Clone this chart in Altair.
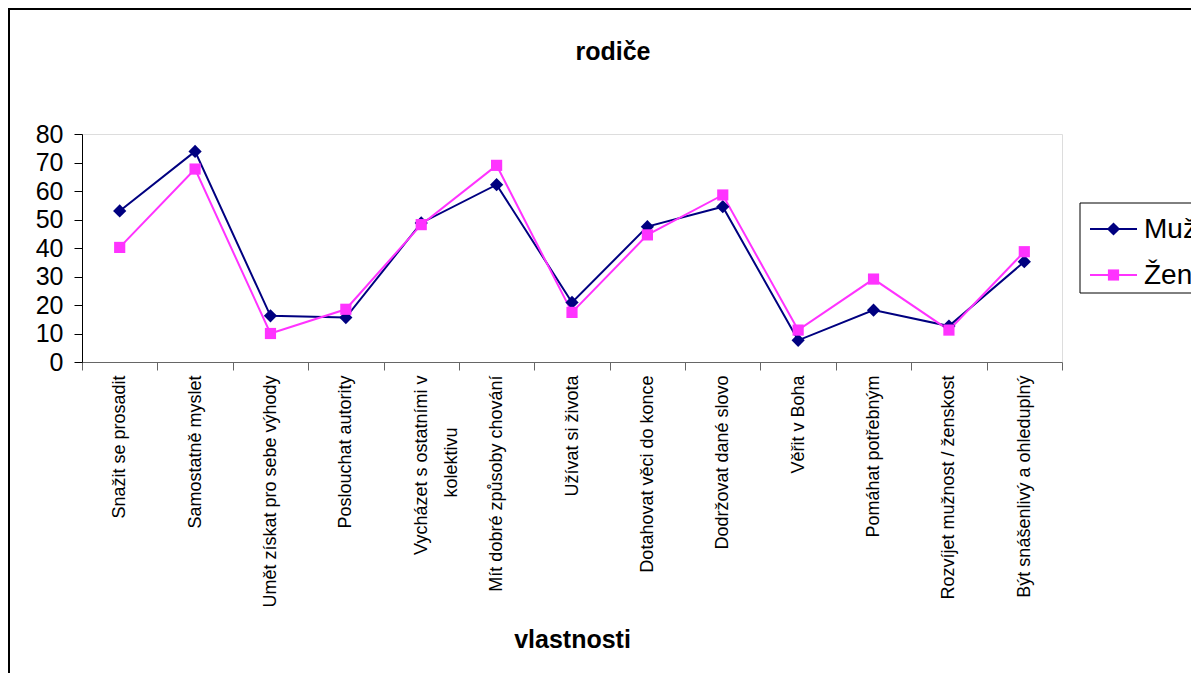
import altair as alt
import pandas as pd

categories = [
    "Snažit se prosadit",
    "Samostatně myslet",
    "Umět získat pro sebe výhody",
    "Poslouchat autority",
    "Vycházet s ostatními v|kolektivu" + "\u2800" * 4,
    "Mít dobré způsoby chování",
    "Užívat si života",
    "Dotahovat věci do konce",
    "Dodržovat dané slovo",
    "Věřit v Boha",
    "Pomáhat potřebným",
    "Rozvíjet mužnost / ženskost",
    "Být snášenlivý a ohleduplný",
]
muzi = [53.0, 73.9, 16.2, 15.6, 48.8, 62.2, 20.9, 47.5, 54.5, 7.6, 18.2, 12.6, 35.2]
zeny = [40.2, 67.7, 10.0, 18.5, 48.2, 69.0, 17.4, 44.6, 58.6, 11.2, 29.1, 11.2, 38.7]
series_names = ["Muži", "Ženy"]
series_colors = ["#000080", "#FF33FF"]
series_markers = ["diamond", "square"]
marker_sizes = [175, 125]
y_ticks = [0, 10, 20, 30, 40, 50, 60, 70, 80]

FONT = "Liberation Sans"

rows = []
for name, vals in zip(series_names, [muzi, zeny]):
    for c, v in zip(categories, vals):
        rows.append({"cat": c, "value": v, "series": name})
df = pd.DataFrame(rows)
leg_df = pd.DataFrame({"series": series_names})

cscale = alt.Scale(domain=series_names, range=series_colors)
shape_scale = alt.Scale(domain=series_names, range=series_markers)
size_scale = alt.Scale(domain=series_names, range=marker_sizes)

x_enc = alt.X(
    "cat:N",
    sort=categories,
    bandPosition=0.5,
    scale=alt.Scale(type="band", paddingInner=0, paddingOuter=0),
    axis=alt.Axis(
        title="vlastnosti",
        titleFont=FONT,
        titleFontSize=25,
        titleFontWeight="bold",
        titleColor="black",
        titlePadding=65,
        labelAngle=-90,
        labelFont=FONT,
        labelFontSize=18,
        labelColor="black",
        labelPadding=5,
        labelLineHeight=30,
        labelExpr="split(datum.label, '|')",
        labelLimit=400,
        tickBand="extent",
        tickSize=8,
        tickColor="#666666",
        domainColor="#666666",
        grid=False,
    ),
)
y_enc = alt.Y(
    "value:Q",
    scale=alt.Scale(domain=[0, 80], nice=False, zero=True),
    axis=alt.Axis(
        title=None,
        values=y_ticks,
        labelFont=FONT,
        labelFontSize=25,
        labelColor="black",
        labelPadding=11,
        tickSize=8,
        tickColor="black",
        domainColor="black",
        grid=False,
    ),
)

base = alt.Chart(df)

lines = base.mark_line(strokeWidth=2).encode(
    x=x_enc, y=y_enc, color=alt.Color("series:N", scale=cscale, legend=None)
)

points = base.mark_point(filled=True, opacity=1).encode(
    x=x_enc,
    y=y_enc,
    color=alt.Color("series:N", scale=cscale, legend=None),
    shape=alt.Shape("series:N", scale=shape_scale, legend=None),
    size=alt.Size("series:N", scale=size_scale, legend=None),
)

main = alt.layer(lines, points)

# legend (box at the right of the plot, partly cut by the window edge)
leg_y = alt.Y(
    "series:N",
    scale=alt.Scale(type="point", domain=series_names, range=[95, 141], padding=0),
    axis=None,
)
leg_box = alt.Chart(pd.DataFrame({"a": [0]})).mark_rect(
    fill="white", stroke="black", strokeWidth=1
).encode(x=alt.value(998), x2=alt.value(1400), y=alt.value(69), y2=alt.value(159))
leg_rule = alt.Chart(leg_df).mark_rule(strokeWidth=2).encode(
    x=alt.value(1008),
    x2=alt.value(1055),
    y=leg_y,
    color=alt.Color("series:N", scale=cscale, legend=None),
)
leg_pts = alt.Chart(leg_df).mark_point(filled=True, opacity=1).encode(
    x=alt.value(1031.5),
    y=leg_y,
    color=alt.Color("series:N", scale=cscale, legend=None),
    shape=alt.Shape("series:N", scale=shape_scale, legend=None),
    size=alt.Size("series:N", scale=size_scale, legend=None),
)
leg_txt = alt.Chart(leg_df).mark_text(
    align="left", baseline="middle", font=FONT, fontSize=28, color="black", dy=1
).encode(x=alt.value(1062), y=leg_y, text="series:N")
legend = alt.layer(leg_box, leg_rule, leg_pts, leg_txt)

frame = alt.Chart(pd.DataFrame({"a": [0]})).mark_rect(
    fillOpacity=0, stroke="black", strokeWidth=2
).encode(
    x=alt.value(-73), x2=alt.value(3000), y=alt.value(-125), y2=alt.value(3000)
)

chart = (
    alt.layer(frame, main, legend)
    .resolve_scale(y="independent")
    .properties(
        width=980,
        height=228,
        autosize=alt.AutoSizeParams(type="none"),
        padding={"left": 74, "top": 126, "right": 129, "bottom": 311},
        title=alt.TitleParams(
            "rodiče",
            font=FONT,
            fontSize=25,
            fontWeight="bold",
            color="black",
            anchor="middle",
            baseline="alphabetic",
            dx=41,
            offset=-77,
        ),
    )
    .configure_view(stroke=None)
    .configure(background="white")
)

chart.save("out.html", embed_options={"renderer": "svg", "actions": False})
